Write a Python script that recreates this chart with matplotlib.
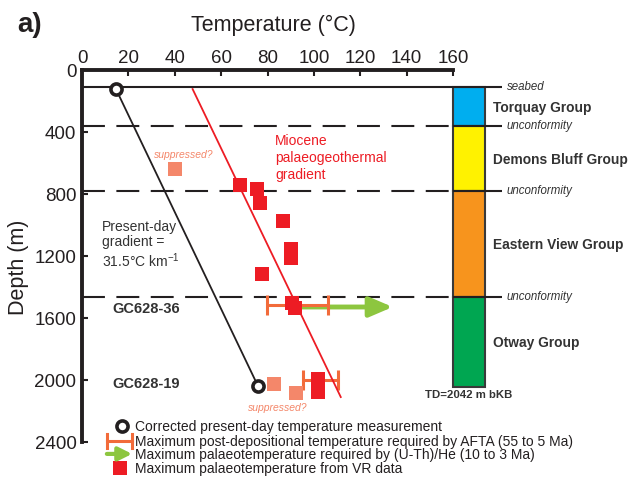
import matplotlib
matplotlib.use("Agg")
import matplotlib.pyplot as plt

plt.rcParams['font.family'] = ['Liberation Sans', 'DejaVu Sans']
plt.rcParams['mathtext.default'] = 'regular'

# present-day temperature profile (corrected measurements)
present_temp = [14.7, 75.9]
present_depth = [125, 2039]

# Miocene palaeogeothermal gradient
palaeo_temp = [47.7, 111.6]
palaeo_depth = [123, 2110]

# vitrinite reflectance palaeotemperatures
vr_temp = [68.2, 75.6, 76.6, 86.6, 90.2, 90.2, 77.6, 90.7, 92.0, 101.7, 101.7]
vr_depth = [742, 768, 858, 977, 1155, 1213, 1319, 1503, 1535, 1995, 2075]

# VR values possibly suppressed
supp_temp = [39.9, 82.8, 92.2]
supp_depth = [639, 2026, 2084]

# AFTA maximum post-depositional temperature ranges
afta_depth = [1516, 2000]
afta_min = [79.7, 95.3]
afta_max = [105.9, 110.3]

# (U-Th)/He minimum palaeotemperature
he_depth = 1529
he_temp = [94, 134]

# stratigraphy
unit_tops = [110, 361, 781, 1465]
td = 2042
unit_names = ['Torquay Group', 'Demons Bluff Group', 'Eastern View Group', 'Otway Group']
unit_colors = ['#00AEEF', '#FFF200', '#F7941D', '#00A651']
boundary_names = ['seabed', 'unconformity', 'unconformity', 'unconformity']

samples = ['GC628-36', 'GC628-19']
sample_depth = [1535, 2019]

RED = '#ED1C24'
SALMON = '#F4876A'
AFTA = '#F26B3A'
GREEN = '#8DC63F'
DARK = '#231F20'

fig = plt.figure(figsize=(6.3, 4.81), dpi=100)
ax = fig.add_axes([82/630, 1-443/481, 371/630, 372/481])
ax.set_xlim(0, 160)
ax.set_ylim(2400, 0)

# stratigraphic column to the right of the plot
col_left, col_right, line_end = 160, 173.7, 181
bases = unit_tops[1:] + [td]
for top, base, name, c in zip(unit_tops, bases, unit_names, unit_colors):
    ax.bar((col_left + col_right) / 2, base - top, bottom=top, width=col_right - col_left,
           color=c, edgecolor='#3a3a3a', linewidth=1.5, clip_on=False, zorder=3)
    ax.text(177.2, (top + base) / 2, name, fontsize=9.9, fontweight='bold', color='#333333',
            va='center', ha='left', clip_on=False)
ax.text((col_left + col_right) / 2, 2090, 'TD=2042 m bKB', fontsize=8.2, fontweight='bold',
        color='#333333', ha='center', va='center')

# seabed and unconformities
for i, (d, lab) in enumerate(zip(unit_tops, boundary_names)):
    if i == 0:
        ax.hlines(d, 0, line_end, color=DARK, lw=1.5, clip_on=False, zorder=4)
    else:
        ax.hlines(d, 0, col_left, color=DARK, lw=1.5, linestyles=(0, (11, 5.5)), zorder=1)
        ax.hlines(d, col_left, line_end, color=DARK, lw=1.5, clip_on=False, zorder=4)
    ax.text(183.2, d - 8, lab, fontsize=8.3, style='italic', color='#333333',
            va='center', ha='left', clip_on=False)

# gradients
ax.plot(present_temp, present_depth, color=DARK, lw=1.3, zorder=5)
ax.plot(palaeo_temp, palaeo_depth, color=RED, lw=1.3, zorder=6)

# (U-Th)/He arrow
ax.annotate('', xy=(he_temp[1], he_depth), xytext=(he_temp[0], he_depth),
            arrowprops=dict(arrowstyle='-|>,head_length=1.4,head_width=0.6',
                            color=GREEN, lw=3.5, shrinkA=0, shrinkB=0), zorder=4)

# AFTA ranges
for d, t0, t1 in zip(afta_depth, afta_min, afta_max):
    ax.errorbar((t0 + t1) / 2, d, xerr=[[(t1 - t0) / 2]], fmt='none', ecolor=AFTA,
                elinewidth=2.2, capsize=7, capthick=2.2, zorder=5)

# VR data
ax.plot(supp_temp, supp_depth, 's', color=SALMON, ms=10, mew=0, zorder=6)
ax.plot(vr_temp, vr_depth, 's', color=RED, ms=10, mew=0, zorder=7)

# present-day measurements
ax.plot(present_temp, present_depth, 'o', ms=8, mfc='white', mec=DARK, mew=2.6, zorder=8)

# annotations
ax.text(8.6, 1123, 'Present-day\ngradient =\n31.5°C km$^{-1}$', fontsize=10,
        color='#333333', ha='left', va='center', linespacing=1.15)
ax.text(83.2, 561, 'Miocene\npalaeogeothermal\ngradient', fontsize=10, color=RED,
        ha='left', va='center', linespacing=1.3)
for s, d in zip(samples, sample_depth):
    ax.text(27.6, d, s, fontsize=10.5, fontweight='bold', color='#333333', ha='center', va='center')
ax.text(44, 542, 'suppressed?', fontsize=7.5, style='italic', color=SALMON, ha='center', va='center')
ax.text(84.5, 2174, 'suppressed?', fontsize=7.5, style='italic', color=SALMON, ha='center', va='center')

# axes styling
ax.xaxis.tick_top()
ax.set_xticks(range(0, 161, 20))
ax.set_yticks(range(0, 2401, 400))
ax.tick_params(axis='both', direction='in', length=4, width=1.5, labelsize=13.5,
               colors=DARK, pad=4)
ax.tick_params(axis='x', pad=3)
for side in ['right', 'bottom']:
    ax.spines[side].set_visible(False)
for side in ['top', 'left']:
    ax.spines[side].set_linewidth(2.8)
    ax.spines[side].set_color(DARK)
ax.set_facecolor('none')

fig.text(0.434, 1 - 31/481, 'Temperature (°C)', fontsize=15.5, color=DARK, ha='center', va='baseline')
fig.text(0.027, 1 - 32/481, 'a)', fontsize=20, fontweight='bold', color=DARK, ha='left', va='baseline')
fig.text(0.029, 0.445, 'Depth (m)', fontsize=15.5, color=DARK, rotation=90, ha='center', va='center')

# legend
tr = ax.transAxes
ax.plot([0.107], [0.043], 'o', ms=8, mfc='white', mec=DARK, mew=2.6, transform=tr, clip_on=False)
ax.plot([0.067, 0.135], [0.0027, 0.0027], color=AFTA, lw=2.2, transform=tr, clip_on=False)
for xc in (0.067, 0.135):
    ax.plot([xc, xc], [-0.017, 0.022], color=AFTA, lw=2.2, transform=tr, clip_on=False)
ax.annotate('', xy=(0.135, -0.032), xytext=(0.067, -0.032), xycoords=tr, textcoords=tr,
            arrowprops=dict(arrowstyle='-|>,head_length=0.8,head_width=0.4',
                            color=GREEN, lw=3, shrinkA=0, shrinkB=0), annotation_clip=False)
ax.plot([0.102], [-0.070], 's', color=RED, ms=10, mew=0, transform=tr, clip_on=False)
legend_labels = ['Corrected present-day temperature measurement',
                 'Maximum post-depositional temperature required by AFTA (55 to 5 Ma)',
                 'Maximum palaeotemperature required by (U-Th)/He (10 to 3 Ma)',
                 'Maximum palaeotemperature from VR data']
for lab, yy in zip(legend_labels, [0.043, 0.0027, -0.032, -0.070]):
    ax.text(0.143, yy, lab, fontsize=10, color=DARK, ha='left', va='center', transform=tr)

fig.savefig('out.png', dpi=100)
